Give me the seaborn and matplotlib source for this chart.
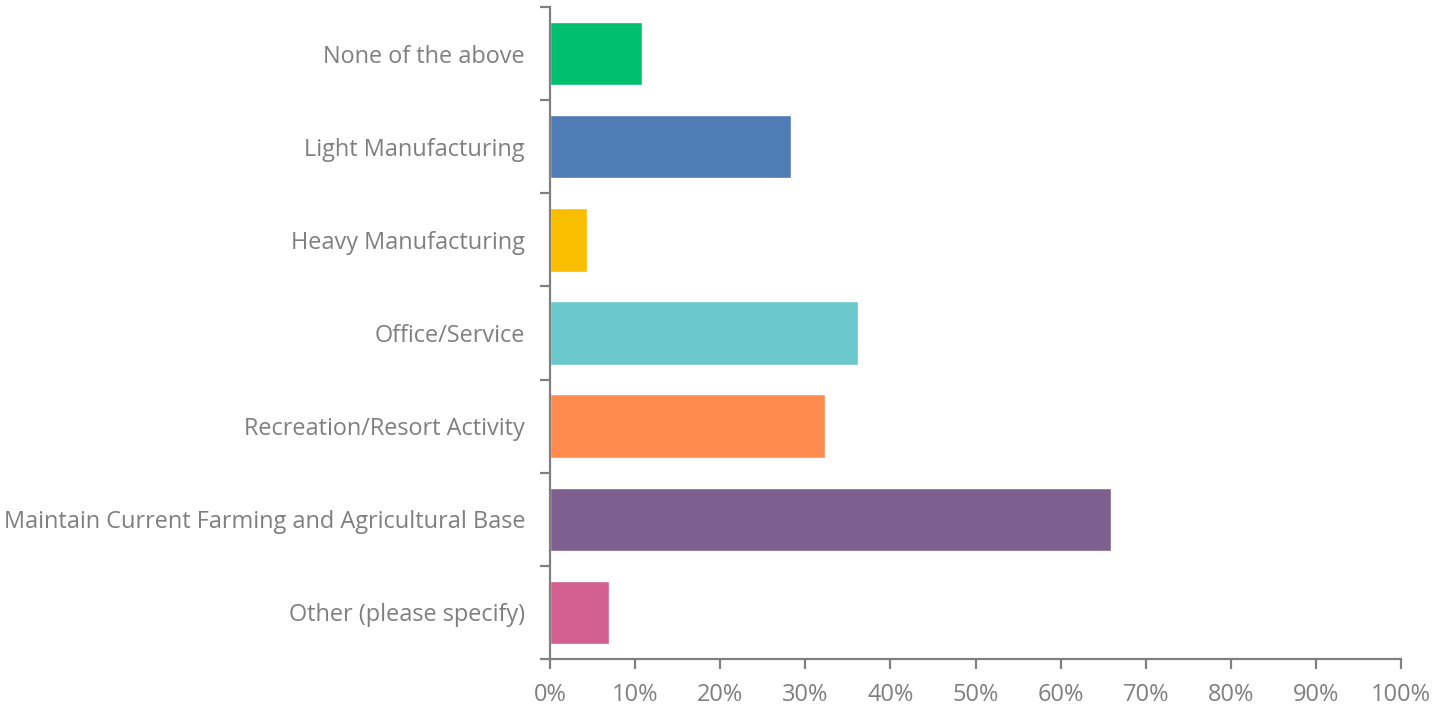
import matplotlib
matplotlib.use("Agg")
import matplotlib.pyplot as plt
import seaborn as sns
import numpy as np
import pandas as pd
from matplotlib.ticker import FixedLocator, PercentFormatter

categories = ["None of the above", "Light Manufacturing", "Heavy Manufacturing",
              "Office/Service", "Recreation/Resort Activity",
              "Maintain Current Farming and Agricultural Base", "Other (please specify)"]
values = [10.8, 28.3, 4.3, 36.2, 32.3, 65.9, 6.9]
colors = ["#00BF6F", "#507CB6", "#F9BE00", "#6BC8CD", "#FF8B4F", "#7F5F90", "#D25F90"]
x_ticks = [0, 10, 20, 30, 40, 50, 60, 70, 80, 90, 100]

sns.set_style("white")
plt.rcParams['font.family'] = ['Open Sans', 'DejaVu Sans']

df = pd.DataFrame({"cat": categories, "val": values})

fig = plt.figure(figsize=(14.41, 7.06), dpi=100)
ax = fig.add_axes([550/1441, 47/706, (1401-550)/1441, (659-7)/706])
sns.barplot(data=df, x="val", y="cat", hue="cat", palette=colors, order=categories,
            orient="h", width=0.68, legend=False, ax=ax, saturation=1)

grey = "#808080"
ax.set_xlim(0, 100)
ax.set_ylim(len(categories) - 0.5, -0.5)
ax.set_xticks(x_ticks)
ax.xaxis.set_major_formatter(PercentFormatter(decimals=0))
ax.yaxis.set_minor_locator(FixedLocator(np.arange(-0.5, len(categories), 1.0)))
ax.tick_params(axis="y", which="major", left=True, length=0, pad=18, labelsize=16.9,
               labelcolor="#7f7f7f")
ax.tick_params(axis="y", which="minor", left=True, length=7, width=1.6, color=grey,
               direction="out")
ax.tick_params(axis="x", which="major", bottom=True, length=7, width=1.6, color=grey,
               direction="out", labelsize=17, labelcolor="#7f7f7f", pad=10)
ax.set_xlabel("")
ax.set_ylabel("")
for s in ["top", "right"]:
    ax.spines[s].set_visible(False)
for s in ["left", "bottom"]:
    ax.spines[s].set_color(grey)
    ax.spines[s].set_linewidth(1.6)

fig.savefig("out.png", dpi=100)
